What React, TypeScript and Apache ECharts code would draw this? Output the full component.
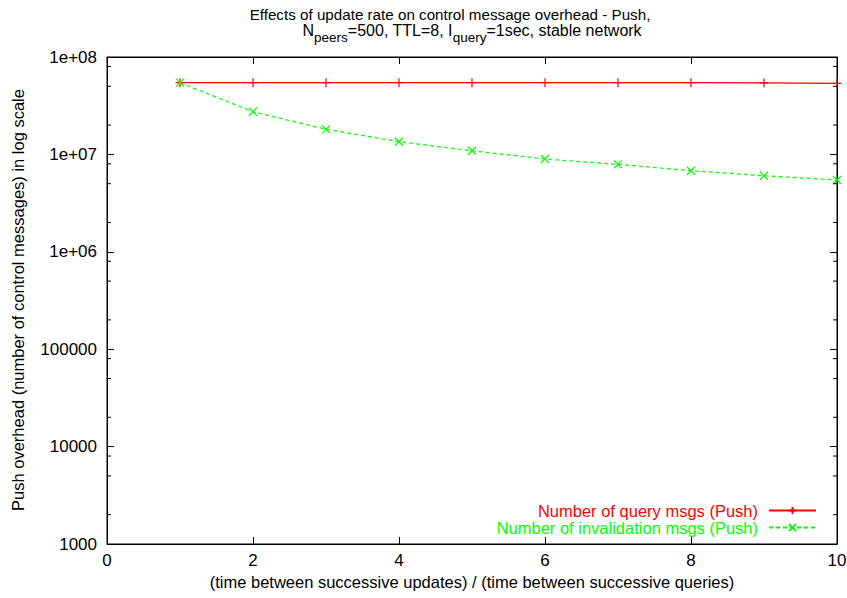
import React, { useEffect, useRef } from "react";
import * as echarts from "echarts";

const xValues = [1, 2, 3, 4, 5, 6, 7, 8, 9, 10];
const queryMsgs = [5.45e7, 5.45e7, 5.45e7, 5.45e7, 5.45e7, 5.45e7, 5.45e7, 5.45e7, 5.42e7, 5.37e7];
const invalidationMsgs = [5.45e7, 2.74e7, 1.81e7, 1.35e7, 1.09e7, 8.97e6, 7.91e6, 6.8e6, 6.04e6, 5.46e6];

const yTickValues = [1000, 10000, 100000, 1e6, 1e7, 1e8];
const yTickTexts = ["1000", "10000", "100000", "1e+06", "1e+07", "1e+08"];
const minorDecades = [1000, 10000, 100000, 1e6, 1e7];
const minorMultipliers = [2, 5, 8];

const seriesNames = ["Number of query msgs (Push)", "Number of invalidation msgs (Push)"];
const titleLine1 = "Effects of update rate on control message overhead - Push,";
const xAxisName = "(time between successive updates) / (time between successive queries)";
const yAxisName = "Push overhead (number of control messages) in log scale";

const FONT = "'Liberation Sans', Arial, Helvetica, sans-serif";

const PLUS = "path://M0,4L8,4M4,0L4,8";
const CROSS = "path://M0,0L8,8M0,8L8,0";

export default function App() {
  const ref = useRef<HTMLDivElement>(null);
  useEffect(() => {
    if (!ref.current) return;
    const chart = echarts.init(ref.current, null, { renderer: "svg" });
    const minorData: number[][] = [];
    minorDecades.forEach((d) => minorMultipliers.forEach((m) => minorData.push([5, d * m])));

    const labelFor = (v: number) => {
      let best = 0;
      let bd = Infinity;
      yTickValues.forEach((t, i) => {
        const dd = Math.abs(Math.log10(t) - Math.log10(v));
        if (dd < bd) { bd = dd; best = i; }
      });
      return yTickTexts[best];
    };

    const yCommon = {
      type: "log" as const,
      logBase: 10,
      min: 1000,
      max: 1e8,
      splitLine: { show: false },
      axisLine: { show: true, onZero: false, lineStyle: { color: "#000", width: 1 } },
      axisTick: { show: true, inside: true, length: 7, lineStyle: { color: "#000", width: 1 } },
    };
    const xCommon = {
      type: "value" as const,
      min: 0,
      max: 10,
      interval: 2,
      splitLine: { show: false },
      axisLine: { show: true, onZero: false, lineStyle: { color: "#000", width: 1 } },
      axisTick: { show: true, inside: true, length: 7, lineStyle: { color: "#000", width: 1 } },
    };

    chart.setOption({
      animation: false,
      backgroundColor: "#fff",
      grid: {
        left: 107, right: 10, top: 57, bottom: 54,
        containLabel: false,
        outerBoundsMode: "none",
        show: true, borderColor: "#000", borderWidth: 1, backgroundColor: "transparent",
      },
      graphic: [
        {
          type: "text",
          x: 450,
          y: 14,
          style: {
            text: titleLine1,
            font: `15.2px ${FONT}`,
            fill: "#000",
            align: "center",
            verticalAlign: "middle",
          },
        },
        {
          type: "text",
          x: 472,
          y: 31,
          style: {
            text: "{m|N}{s|peers}{m|=500, TTL=8, I}{s|query}{m|=1sec, stable network}",
            align: "center",
            verticalAlign: "middle",
            fill: "#000",
            rich: {
              m: { fontFamily: FONT, fontSize: 16, fill: "#000", lineHeight: 18, verticalAlign: "top" },
              s: { fontFamily: FONT, fontSize: 13.5, fill: "#000", lineHeight: 18, padding: [8, 0, 0, 0], verticalAlign: "top" },
            },
          },
        },
        {
          type: "text",
          x: 472,
          y: 582,
          style: {
            text: xAxisName,
            font: `16.5px ${FONT}`,
            fill: "#000",
            align: "center",
            verticalAlign: "middle",
          },
        },
        {
          type: "text",
          x: 18,
          y: 300,
          rotation: Math.PI / 2,
          style: {
            text: yAxisName,
            font: `16.5px ${FONT}`,
            fill: "#000",
            align: "center",
            verticalAlign: "middle",
          },
        },
      ],
      xAxis: [
        {
          ...xCommon,
          position: "bottom",
          axisLabel: { fontFamily: FONT, fontSize: 17, color: "#000", margin: 8 },
        },
        { ...xCommon, position: "top", axisLabel: { show: false } },
      ],
      yAxis: [
        {
          ...yCommon,
          position: "left",
          axisLabel: { fontFamily: FONT, fontSize: 17, color: "#000", margin: 10, formatter: (v: number) => labelFor(v) },
        },
        { ...yCommon, position: "right", axisLabel: { show: false } },
      ],
      legend: [
        {
          data: [seriesNames[0]],
          right: 30,
          top: 502,
          align: "right",
          orient: "vertical",
          itemWidth: 47,
          itemHeight: 9,
          padding: 0,
          textStyle: { fontFamily: FONT, fontSize: 16.5, lineHeight: 15, color: "#ff0000", padding: [0, 6, 0, 0] },
        },
        {
          data: [seriesNames[1]],
          right: 30,
          top: 519,
          align: "right",
          orient: "vertical",
          itemWidth: 47,
          itemHeight: 9,
          padding: 0,
          textStyle: { fontFamily: FONT, fontSize: 16.5, lineHeight: 15, color: "#00ff00", padding: [0, 6, 0, 0] },
        },
      ],
      series: [
        {
          name: seriesNames[0],
          type: "line",
          data: xValues.map((x, i) => [x, queryMsgs[i]]),
          symbol: PLUS,
          symbolSize: 9,
          showSymbol: true,
          lineStyle: { color: "#ff0000", width: 1.2 },
          itemStyle: { color: "#ff0000", borderColor: "#ff0000", borderWidth: 1.2 },
          emphasis: { disabled: true },
          z: 3,
        },
        {
          name: seriesNames[1],
          type: "line",
          data: xValues.map((x, i) => [x, invalidationMsgs[i]]),
          symbol: CROSS,
          symbolSize: 8,
          showSymbol: true,
          lineStyle: { color: "#00ff00", width: 1.2, type: [4, 3] },
          itemStyle: { color: "#00ff00", borderColor: "#00ff00", borderWidth: 1.2 },
          emphasis: { disabled: true },
          z: 4,
        },
        {
          name: "minorTicks",
          type: "custom",
          silent: true,
          clip: false,
          z: 10,
          data: minorData,
          renderItem: (params: any, api: any) => {
            const cs = params.coordSys;
            const p = api.coord([5, api.value(1)]);
            return {
              type: "group",
              children: [
                { type: "line", shape: { x1: cs.x, y1: p[1], x2: cs.x + 4, y2: p[1] }, style: { stroke: "#000", lineWidth: 1 } },
                { type: "line", shape: { x1: cs.x + cs.width - 4, y1: p[1], x2: cs.x + cs.width, y2: p[1] }, style: { stroke: "#000", lineWidth: 1 } },
              ],
            };
          },
        },
      ],
    });
    return () => chart.dispose();
  }, []);
  return <div ref={ref} style={{ position: "absolute", left: 0, top: 0, width: 847, height: 598 }} />;
}
